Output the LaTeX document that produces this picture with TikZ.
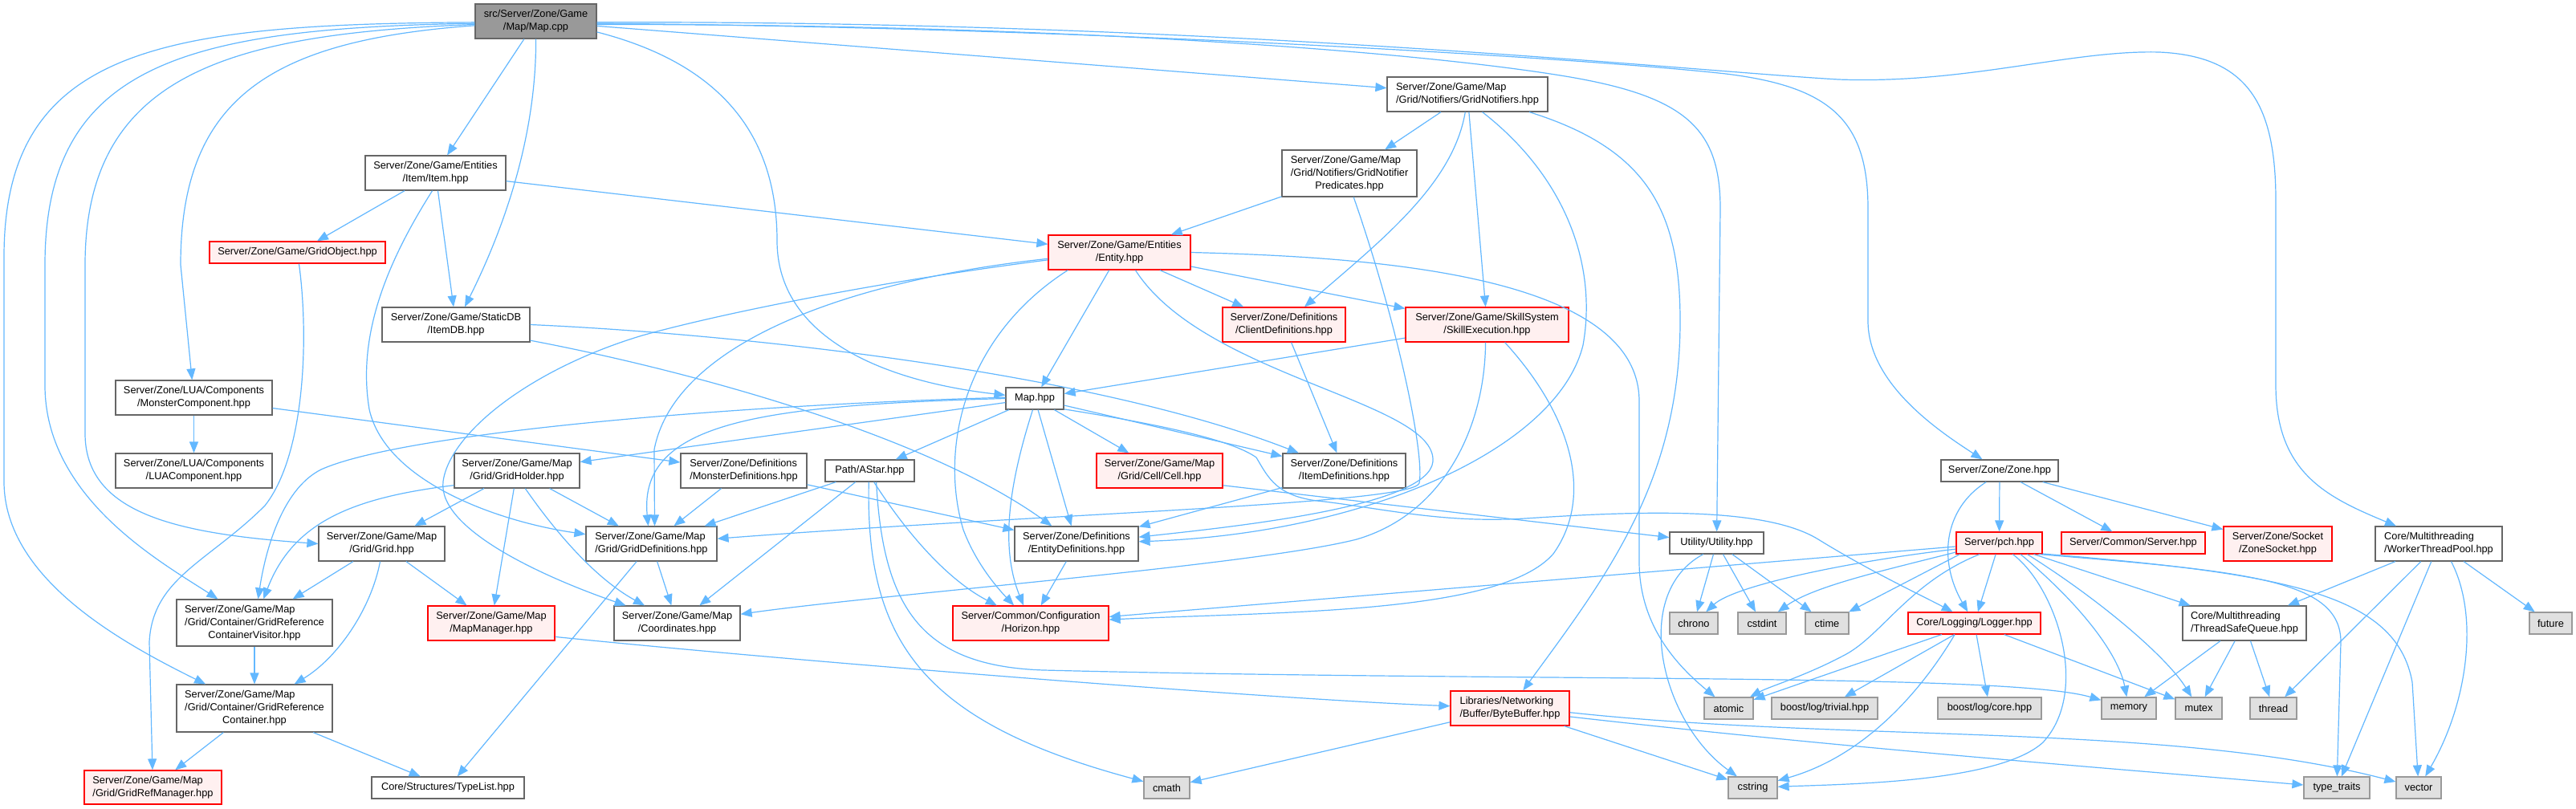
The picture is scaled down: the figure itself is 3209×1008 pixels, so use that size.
\documentclass[tikz,border=0pt]{standalone}
\usepackage{fontspec}
\setmainfont{Liberation Sans}
\usetikzlibrary{arrows.meta,calc}
\definecolor{cEdge}{HTML}{63B8FF}
\definecolor{cGrayB}{HTML}{666666}
\definecolor{cRed}{HTML}{FF0000}
\definecolor{cRedF}{HTML}{FFF0F0}
\definecolor{cRoot}{HTML}{999999}
\definecolor{cExtF}{HTML}{E0E0E0}
\definecolor{cExtB}{HTML}{999999}
\newcommand{\nodefont}{\fontsize{12.8}{16}\selectfont}
\newcommand{\twoline}[2]{\begin{tabular}{@{}l@{}}#1\\\multicolumn{1}{@{}c@{}}{#2}\end{tabular}}
\newcommand{\threeline}[3]{\begin{tabular}{@{}l@{}}#1\\#2\\\multicolumn{1}{@{}c@{}}{#3}\end{tabular}}
\newcommand{\mynode}[7]{\node[#1, minimum width={(#5-#3)*1pt}, minimum height={(#6-#4)*1pt}] (#2) at ({(#3+#5)/2},{(#4+#6)/2}) {#7};}
\begin{document}
\begin{tikzpicture}[x=1pt,y=-1pt,
  base/.style={inner sep=0pt, line width=1.2pt, font=\nodefont, rectangle},
  box/.style={base, draw=cGrayB, fill=white},
  redbox/.style={base, draw=cRed, fill=cRedF},
  rootbox/.style={base, draw=cGrayB, fill=cRoot},
  ext/.style={base, draw=cExtB, fill=cExtF},
  e/.style={draw=cEdge, line width=1.2pt, line join=round, -{Triangle[length=14pt,width=11pt]}}]
\fill[white] (0,0) rectangle (3209,1008);
\useasboundingbox (0,0) rectangle (3209,1008);

\mynode{rootbox}{mapcpp}{592}{5}{743}{48}{\twoline{src/Server/Zone/Game}{/Map/Map.cpp}}
\mynode{box}{item}{455}{194}{630}{237}{\twoline{Server/Zone/Game/Entities}{/Item/Item.hpp}}
\mynode{redbox}{gridobj}{261}{301}{480}{328}{Server/Zone/Game/GridObject.hpp}
\mynode{redbox}{entity}{1306}{293}{1483}{336}{\twoline{Server/Zone/Game/Entities}{/Entity.hpp}}
\mynode{box}{gridnot}{1728}{96}{1928}{139}{\twoline{Server/Zone/Game/Map}{/Grid/Notifiers/GridNotifiers.hpp}}
\mynode{box}{gnpred}{1597}{187}{1765}{245}{\threeline{Server/Zone/Game/Map}{/Grid/Notifiers/GridNotifier}{Predicates.hpp}}
\mynode{box}{itemdb}{476}{383}{660}{426}{\twoline{Server/Zone/Game/StaticDB}{/ItemDB.hpp}}
\mynode{redbox}{clientdef}{1523}{383}{1676}{426}{\twoline{Server/Zone/Definitions}{/ClientDefinitions.hpp}}
\mynode{redbox}{skillexec}{1751}{383}{1954}{426}{\twoline{Server/Zone/Game/SkillSystem}{/SkillExecution.hpp}}
\mynode{box}{monstercomp}{144}{474}{339}{517}{\twoline{Server/Zone/LUA/Components}{/MonsterComponent.hpp}}
\mynode{box}{luacomp}{144}{565}{339}{608}{\twoline{Server/Zone/LUA/Components}{/LUAComponent.hpp}}
\mynode{box}{maphpp}{1253}{483}{1325}{510}{Map.hpp}
\mynode{box}{gridholder}{566}{565}{722}{608}{\twoline{Server/Zone/Game/Map}{/Grid/GridHolder.hpp}}
\mynode{box}{monsterdef}{848}{565}{1005}{608}{\twoline{Server/Zone/Definitions}{/MonsterDefinitions.hpp}}
\mynode{box}{astar}{1028}{573}{1139}{600}{Path/AStar.hpp}
\mynode{redbox}{cell}{1366}{565}{1523}{608}{\twoline{Server/Zone/Game/Map}{/Grid/Cell/Cell.hpp}}
\mynode{box}{itemdef}{1598}{565}{1751}{608}{\twoline{Server/Zone/Definitions}{/ItemDefinitions.hpp}}
\mynode{box}{zone}{2418}{573}{2564}{600}{Server/Zone/Zone.hpp}
\mynode{box}{grid}{397}{656}{554}{699}{\twoline{Server/Zone/Game/Map}{/Grid/Grid.hpp}}
\mynode{box}{griddef}{730}{656}{893}{699}{\twoline{Server/Zone/Game/Map}{/Grid/GridDefinitions.hpp}}
\mynode{box}{entitydef}{1264}{656}{1418}{699}{\twoline{Server/Zone/Definitions}{/EntityDefinitions.hpp}}
\mynode{box}{utility}{2080}{663}{2197}{690}{Utility/Utility.hpp}
\mynode{redbox}{pch}{2437}{663}{2544}{690}{Server/pch.hpp}
\mynode{redbox}{server}{2568}{663}{2747}{690}{Server/Common/Server.hpp}
\mynode{redbox}{zonesock}{2770}{656}{2905}{699}{\twoline{Server/Zone/Socket}{/ZoneSocket.hpp}}
\mynode{box}{wtp}{2959}{656}{3117}{699}{\twoline{Core/Multithreading}{/WorkerThreadPool.hpp}}
\mynode{box}{grcv}{220}{747}{414}{805}{\threeline{Server/Zone/Game/Map}{/Grid/Container/GridReference}{ContainerVisitor.hpp}}
\mynode{redbox}{mapmgr}{533}{755}{691}{798}{\twoline{Server/Zone/Game/Map}{/MapManager.hpp}}
\mynode{box}{coords}{765}{755}{922}{798}{\twoline{Server/Zone/Game/Map}{/Coordinates.hpp}}
\mynode{redbox}{horizon}{1187}{755}{1381}{798}{\twoline{Server/Common/Configuration}{/Horizon.hpp}}
\mynode{ext}{chrono}{2080}{763}{2140}{790}{chrono}
\mynode{ext}{cstdint}{2165}{763}{2225}{790}{cstdint}
\mynode{ext}{ctime}{2249}{763}{2303}{790}{ctime}
\mynode{redbox}{logger}{2377}{763}{2542}{790}{Core/Logging/Logger.hpp}
\mynode{box}{tsq}{2719}{755}{2873}{798}{\twoline{Core/Multithreading}{/ThreadSafeQueue.hpp}}
\mynode{ext}{future}{3151}{763}{3204}{790}{future}
\mynode{box}{grc}{220}{853}{414}{912}{\threeline{Server/Zone/Game/Map}{/Grid/Container/GridReference}{Container.hpp}}
\mynode{redbox}{bytebuf}{1807}{861}{1955}{904}{\twoline{Libraries/Networking}{/Buffer/ByteBuffer.hpp}}
\mynode{ext}{atomic}{2123}{869}{2184}{896}{atomic}
\mynode{ext}{trivial}{2207}{869}{2339}{896}{boost/log/trivial.hpp}
\mynode{ext}{core}{2414}{869}{2543}{896}{boost/log/core.hpp}
\mynode{ext}{memory}{2618}{869}{2686}{896}{memory}
\mynode{ext}{mutex}{2710}{869}{2768}{896}{mutex}
\mynode{ext}{thread}{2803}{869}{2861}{896}{thread}
\mynode{redbox}{gridrefmgr}{105}{960}{276}{1002}{\twoline{Server/Zone/Game/Map}{/Grid/GridRefManager.hpp}}
\mynode{box}{typelist}{463}{968}{653}{995}{Core/Structures/TypeList.hpp}
\mynode{ext}{cmath}{1425}{968}{1482}{995}{cmath}
\mynode{ext}{cstring}{2153}{968}{2214}{995}{cstring}
\mynode{ext}{typetraits}{2870}{968}{2952}{995}{type\_traits}
\mynode{ext}{vector}{2985}{968}{3041}{995}{vector}

% Map.cpp
\draw[e] (mapcpp.181) .. controls (200,30) and (5,60) .. (5,320) -- (5,600) .. controls (5,720) and (150,800) .. (grc);
\draw[e] (mapcpp.182) .. controls (230,35) and (56,80) .. (56,330) -- (56,480) .. controls (56,620) and (200,700) .. (grcv);
\draw[e] (mapcpp.183) .. controls (280,42) and (106,95) .. (106,330) -- (106,540) .. controls (106,640) and (220,665) .. (grid.west);
\draw[e] (mapcpp.184) .. controls (340,50) and (225,120) .. (225,330) -- (monstercomp);
\draw[e] (mapcpp) -- (item);
\draw[e] (mapcpp) .. controls (668,150) and (640,260) .. (itemdb);
\draw[e] (mapcpp.-10) .. controls (900,80) and (968,170) .. (968,300) .. controls (968,420) and (1100,475) .. (maphpp);
\draw[e] (mapcpp) -- (gridnot);
\draw[e] (mapcpp.-3) .. controls (1300,30) and (1750,62) .. (1950,95) .. controls (2100,120) and (2143,160) .. (2143,260) -- (utility);
\draw[e] (mapcpp.-2) .. controls (1400,35) and (2000,75) .. (2150,92) .. controls (2280,108) and (2327,150) .. (2327,260) -- (2327,400) .. controls (2327,480) and (2420,540) .. (zone);
\draw[e] (mapcpp.-1) .. controls (1500,25) and (2100,88) .. (2290,99) .. controls (2450,105) and (2580,62) .. (2690,65) .. controls (2800,70) and (2835,130) .. (2835,250) -- (2835,480) .. controls (2835,590) and (2900,620) .. (wtp);

% Item
\draw[e] (item) -- (gridobj);
\draw[e] (item) -- (itemdb);
\draw[e] (item) -- (entity);
\draw[e] (item.-100) .. controls (480,330) and (445,420) .. (460,510) .. controls (480,600) and (620,650) .. (griddef);
\draw[e] (gridobj) .. controls (385,420) and (380,567) .. (330,630) .. controls (260,700) and (190,720) .. (186,800) -- (gridrefmgr);

% Entity
\draw[e] (entity) -- (clientdef);
\draw[e] (entity) -- (skillexec);
\draw[e] (entity) -- (maphpp);
\draw[e] (entity.-161) .. controls (1200,420) and (1170,560) .. (1200,660) .. controls (1215,700) and (1240,730) .. (horizon);
\draw[e] (entity.-48) .. controls (1500,470) and (1790,500) .. (1785,575) .. controls (1780,630) and (1550,655) .. (entitydef);
\draw[e] (entity.east) .. controls (1700,320) and (2042,340) .. (2042,500) -- (2042,700) .. controls (2042,780) and (2090,830) .. (atomic);
\draw[e] (entity.185) .. controls (1050,350) and (840,430) .. (815,560) -- ([xshift=4pt]griddef.north);
\draw[e] (entity.186) .. controls (1100,350) and (900,390) .. (800,418) .. controls (660,460) and (560,540) .. (552,600) .. controls (545,660) and (680,720) .. (coords);

% Grid notifiers
\draw[e] (gnpred) -- (entity);
\draw[e] (gnpred.-80) .. controls (1740,400) and (1775,565) .. (1768,602) .. controls (1760,628) and (1300,640) .. (griddef);
\draw[e] (gridnot) -- (gnpred);
\draw[e] (gridnot.-97) .. controls (1810,230) and (1720,300) .. (clientdef);
\draw[e] (gridnot) -- (skillexec);
\draw[e] (gridnot.-50) .. controls (1950,220) and (1990,330) .. (1972,430) .. controls (1940,560) and (1700,665) .. (entitydef);
\draw[e] (gridnot.-16) .. controls (2050,185) and (2093,260) .. (2093,400) .. controls (2093,600) and (2000,720) .. (bytebuf);

% Skill execution
\draw[e] (skillexec) -- (maphpp);
\draw[e] (skillexec.-95) .. controls (1850,530) and (1800,640) .. (1690,672) .. controls (1560,705) and (1100,740) .. (coords);
\draw[e] (skillexec.-45) .. controls (1960,520) and (1985,620) .. (1935,690) .. controls (1870,765) and (1600,762) .. (horizon);

% Map.hpp
\draw[e] (maphpp) -- (gridholder);
\draw[e] (maphpp.178) .. controls (900,505) and (500,540) .. (400,585) .. controls (350,610) and (330,690) .. (grcv);
\draw[e] (maphpp.180) .. controls (950,505) and (795,525) .. ([xshift=-4pt]griddef.north);
\draw[e] (maphpp) -- (astar);
\draw[e] (maphpp) -- (cell);
\draw[e] (maphpp) -- (itemdef);
\draw[e] (maphpp) -- (entitydef);
\draw[e] (maphpp.-100) .. controls (1258,600) and (1245,680) .. (horizon);
\draw[e] (maphpp.-20) .. controls (1420,525) and (1530,545) .. (1565,570) .. controls (1580,595) and (1590,620) .. (1650,625) .. controls (1730,635) and (1800,652) .. (1900,646) .. controls (2050,636) and (2200,632) .. (2265,672) .. controls (2330,712) and (2390,740) .. (logger);
\draw[e] (cell.-13) -- (utility);

% Grid holder / grid
\draw[e] (gridholder) -- (grid);
\draw[e] (gridholder.193) .. controls (440,620) and (365,650) .. (grcv);
\draw[e] (gridholder) -- (mapmgr);
\draw[e] (gridholder.-65) .. controls (690,660) and (740,720) .. (coords);
\draw[e] (gridholder) -- (griddef);
\draw[e] (grid) -- (grcv);
\draw[e] (grid.-95) .. controls (462,760) and (420,820) .. (grc);
\draw[e] (grid) -- (mapmgr);
\draw[e] (grcv) -- (grc);
\draw[e] (grc) -- (gridrefmgr);
\draw[e] (grc) -- (typelist);
\draw[e] (griddef) -- (typelist);
\draw[e] (griddef) -- (coords);
\draw[e] (mapmgr.-12) .. controls (1000,825) and (1600,872) .. (bytebuf);

% Components / definitions
\draw[e] (monstercomp) -- (luacomp);
\draw[e] (monstercomp) -- (monsterdef);
\draw[e] (monsterdef) -- (griddef);
\draw[e] (monsterdef) -- (entitydef);
\draw[e] (itemdb.east) .. controls (900,415) and (1350,460) .. (itemdef);
\draw[e] (itemdb.-12) .. controls (850,460) and (1150,540) .. (entitydef);
\draw[e] (clientdef) -- (itemdef);
\draw[e] (itemdef) -- (entitydef);
\draw[e] (entitydef) -- (horizon);

% AStar
\draw[e] (astar) -- (griddef);
\draw[e] (astar) -- (coords);
\draw[e] (astar.-95) .. controls (1078,800) and (1150,900) .. (cmath);
\draw[e] (astar.-70) .. controls (1130,665) and (1180,722) .. (horizon);
\draw[e] (astar.-60) .. controls (1100,760) and (1150,830) .. (1300,835) .. controls (1900,850) and (2500,838) .. (memory);

% ByteBuffer
\draw[e] (bytebuf) -- (cmath);
\draw[e] (bytebuf) -- (cstring);
\draw[e] (bytebuf.-8) .. controls (2300,932) and (2600,955) .. (typetraits);
\draw[e] (bytebuf.-4) .. controls (2300,925) and (2700,900) .. (vector);

% Utility
\draw[e] (utility) -- (chrono);
\draw[e] (utility) -- (cstdint);
\draw[e] (utility) -- (ctime);
\draw[e] (utility.-140) .. controls (2030,740) and (2070,900) .. (cstring);

% Zone
\draw[e] (zone) -- (pch);
\draw[e] (zone) -- (server);
\draw[e] (zone) -- (zonesock);
\draw[e] (zone.-140) .. controls (2420,635) and (2415,700) .. (logger);

% pch
\draw[e] (pch) -- (horizon);
\draw[e] (pch.188) .. controls (2300,700) and (2160,730) .. (chrono);
\draw[e] (pch.192) .. controls (2350,710) and (2260,730) .. (cstdint);
\draw[e] (pch.196) -- (ctime);
\draw[e] (pch.-150) .. controls (2380,725) and (2345,790) .. (2300,815) .. controls (2250,842) and (2205,855) .. (atomic);
\draw[e] (pch) -- (logger);
\draw[e] (pch.-40) .. controls (2560,730) and (2605,860) .. (2545,925) .. controls (2490,975) and (2300,977) .. (cstring);
\draw[e] (pch.-28) .. controls (2600,760) and (2640,820) .. (memory);
\draw[e] (pch.-22) .. controls (2620,750) and (2700,820) .. (mutex);
\draw[e] (pch) -- (tsq);
\draw[e] (pch.-16) .. controls (2800,712) and (2916,722) .. (2916,800) -- (typetraits);
\draw[e] (pch.-14) .. controls (2850,715) and (2985,740) .. (3005,850) -- (vector);

% Logger
\draw[e] (logger) -- (atomic);
\draw[e] (logger) -- (trivial);
\draw[e] (logger) -- (core);
\draw[e] (logger.-150) .. controls (2400,850) and (2330,940) .. (cstring);
\draw[e] (logger) -- (mutex);

% Thread safe queue / worker pool
\draw[e] (tsq) -- (memory);
\draw[e] (tsq) -- (mutex);
\draw[e] (tsq) -- (thread);
\draw[e] (wtp) -- (tsq);
\draw[e] (wtp) -- (thread);
\draw[e] (wtp) -- (typetraits);
\draw[e] (wtp.-55) .. controls (3090,770) and (3072,880) .. (vector);
\draw[e] (wtp) -- (future);
\end{tikzpicture}
\end{document}
